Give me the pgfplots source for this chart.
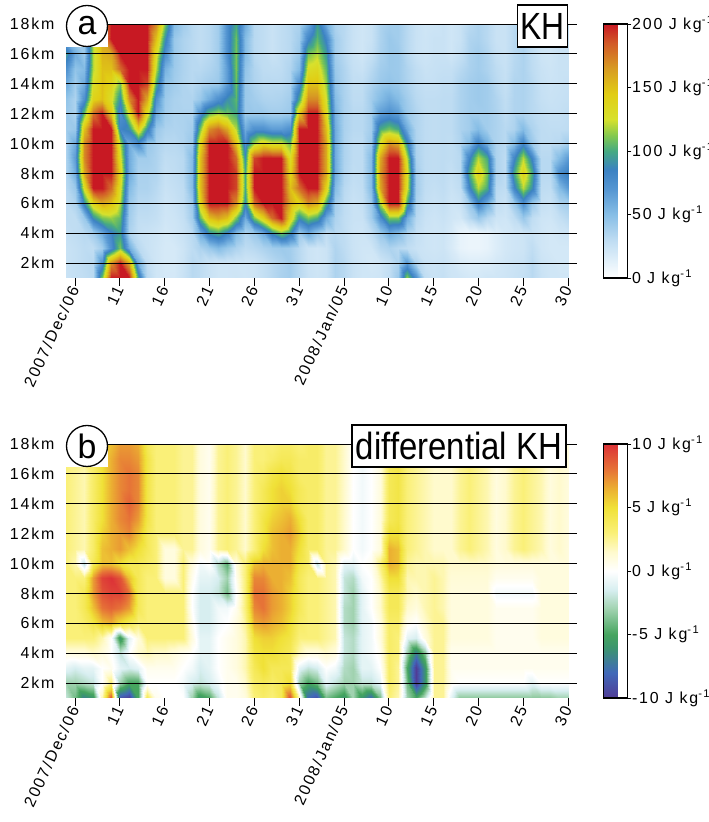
\documentclass[border=0pt]{standalone}
\usepackage{pgfplots}
\pgfplotsset{compat=1.18}
\usepackage{graphicx}
\usepackage{fontspec}
\setmainfont{Liberation Sans}
\newfontfamily\lsp{Liberation Sans}[LetterSpace=12]
\newcommand{\tf}{\lsp\fontsize{16}{18}\selectfont}
\pgfplotsset{
  colormap={kh}{rgb255(0)=(255,255,255) rgb255(15)=(222,238,249) rgb255(30)=(190,220,242) rgb255(50)=(135,190,230) rgb255(70)=(85,150,210) rgb255(85)=(60,130,195) rgb255(100)=(70,170,130) rgb255(112)=(130,200,80) rgb255(125)=(215,225,45) rgb255(145)=(225,205,20) rgb255(165)=(215,155,35) rgb255(185)=(210,90,40) rgb255(200)=(200,25,35)},
  colormap={dkh}{rgb255(0)=(80,60,150) rgb255(4)=(65,105,185) rgb255(8)=(60,150,110) rgb255(10)=(70,165,95) rgb255(14)=(160,210,175) rgb255(17)=(215,238,240) rgb255(20)=(255,255,255) rgb255(23)=(255,250,205) rgb255(26)=(250,240,120) rgb255(30)=(240,225,55) rgb255(33)=(235,175,50) rgb255(36)=(230,115,55) rgb255(40)=(220,50,55)},
  heat/.style={
    view={0}{90},
    scale only axis, width=511bp, height=254bp,
    xmin=-1, xmax=56, ymin=1, ymax=18,
    axis on top,
    axis line style={draw=none},
    tick pos=left, tick align=outside,
    major tick length=8bp,
    xtick={0,5,...,55},
    xticklabels={2007/Dec/06,11,16,21,26,31,2008/Jan/05,10,15,20,25,30},
    xticklabel style={font=\tf, rotate=65, anchor=east, inner sep=1bp},
    ytick={2,4,...,18},
    yticklabels={2km,4km,6km,8km,10km,12km,14km,16km,18km},
    yticklabel style={font=\tf},
    ytick style={draw=none},
    xtick style={black, line width=0.8bp},
    ztick=\empty,
    ymajorgrids,
    major grid style={black, line width=0.8bp},
    colorbar,
    colorbar style={
      at={(parent axis.north east)}, anchor=north west, xshift=18bp,
      scale only axis, width=24bp, height=254bp,
      axis line style={draw=black, line width=1.2bp},
      ytick pos=right, yticklabel pos=right, tick align=outside,
      major tick length=4bp,
      ytick style={black, line width=0.8bp},
      yticklabel style={font=\tf, xshift=-3bp},
    },
  },
}
\begin{document}
\begin{tikzpicture}
\useasboundingbox (0,0) rectangle (709bp,822bp);
% ---------------- panel a ----------------
\begin{axis}[heat, at={(66bp,544bp)}, anchor=south west,
  colormap name=kh, point meta min=0, point meta max=200,
  colorbar style={ytick={0,50,100,150,200},
    yticklabels={0 J kg\textsuperscript{-1},50 J kg\textsuperscript{-1},100 J kg\textsuperscript{-1},150 J kg\textsuperscript{-1},200 J kg\textsuperscript{-1}}}]
\addplot3[surf, shader=interp, mesh/cols=57, mesh/ordering=x varies] table[row sep=\\, header=false,
    x expr={\coordindex-57*floor((\coordindex+0.5)/57)-1},
    y expr={floor((\coordindex+0.5)/57)+1},
    z index=0]{
25\\27\\29\\32\\110\\220\\250\\220\\100\\32\\22\\20\\20\\25\\32\\30\\25\\22\\22\\23\\22\\23\\27\\32\\37\\40\\32\\25\\23\\25\\36\\32\\25\\22\\22\\23\\29\\43\\115\\74\\29\\25\\27\\23\\22\\20\\20\\22\\22\\23\\25\\27\\32\\25\\22\\22\\22\\
25\\27\\30\\32\\74\\170\\220\\160\\59\\29\\22\\19\\19\\24\\32\\30\\25\\22\\22\\22\\22\\23\\27\\32\\36\\40\\32\\24\\22\\24\\36\\32\\25\\22\\20\\22\\27\\36\\67\\36\\25\\24\\25\\22\\18\\16\\16\\17\\20\\22\\24\\25\\32\\24\\22\\20\\20\\
25\\27\\30\\29\\40\\74\\110\\59\\32\\25\\22\\19\\19\\23\\30\\36\\43\\51\\43\\36\\30\\32\\36\\40\\42\\40\\32\\24\\22\\24\\35\\30\\24\\22\\22\\32\\36\\32\\29\\25\\23\\22\\23\\18\\11\\9\\9\\11\\16\\20\\22\\23\\29\\22\\20\\20\\20\\
27\\29\\32\\40\\59\\82\\95\\36\\27\\25\\23\\20\\22\\25\\32\\59\\90\\100\\82\\51\\36\\43\\59\\90\\110\\90\\43\\59\\43\\29\\32\\29\\24\\23\\29\\43\\59\\51\\36\\27\\23\\22\\23\\19\\11\\9\\9\\11\\16\\20\\22\\23\\25\\22\\20\\22\\23\\
29\\29\\43\\90\\110\\115\\105\\40\\29\\29\\27\\22\\23\\27\\40\\105\\150\\160\\150\\110\\59\\110\\140\\180\\200\\140\\90\\110\\100\\59\\36\\29\\25\\25\\40\\74\\110\\110\\59\\32\\25\\23\\25\\22\\20\\32\\43\\32\\23\\22\\29\\43\\29\\23\\22\\27\\32\\
30\\36\\90\\140\\160\\150\\120\\43\\32\\32\\29\\23\\25\\29\\43\\140\\230\\250\\240\\170\\90\\180\\230\\250\\250\\160\\140\\170\\160\\100\\40\\30\\25\\27\\43\\120\\200\\200\\100\\36\\27\\25\\27\\23\\25\\43\\82\\59\\29\\25\\43\\74\\43\\27\\25\\36\\40\\
32\\43\\130\\200\\230\\180\\130\\51\\36\\36\\32\\25\\27\\30\\51\\150\\250\\250\\250\\190\\100\\230\\250\\250\\250\\150\\180\\240\\230\\140\\51\\32\\27\\29\\51\\160\\250\\250\\125\\40\\29\\27\\29\\25\\29\\82\\120\\100\\32\\29\\82\\120\\90\\30\\29\\51\\67\\
35\\59\\160\\250\\250\\220\\140\\59\\37\\37\\35\\27\\29\\32\\51\\150\\250\\250\\250\\190\\100\\230\\250\\250\\250\\140\\210\\250\\250\\160\\59\\35\\29\\30\\51\\165\\250\\250\\130\\40\\30\\29\\30\\27\\32\\100\\140\\110\\36\\30\\100\\140\\100\\32\\32\\74\\87\\
36\\67\\170\\250\\250\\230\\130\\59\\40\\40\\36\\29\\30\\32\\51\\150\\250\\250\\250\\180\\90\\190\\230\\230\\220\\130\\230\\250\\250\\160\\59\\36\\30\\30\\51\\160\\240\\240\\120\\37\\30\\29\\30\\29\\32\\82\\120\\100\\36\\30\\82\\120\\82\\32\\32\\51\\67\\
37\\59\\170\\250\\250\\230\\120\\59\\74\\43\\37\\32\\32\\35\\43\\140\\230\\240\\220\\150\\74\\120\\140\\130\\130\\110\\230\\250\\250\\160\\59\\36\\30\\30\\43\\130\\170\\160\\90\\36\\30\\29\\30\\29\\35\\51\\82\\59\\36\\32\\51\\82\\43\\30\\30\\32\\40\\
40\\43\\150\\230\\250\\200\\82\\90\\140\\90\\43\\36\\35\\36\\40\\110\\170\\180\\160\\120\\59\\74\\74\\67\\67\\74\\200\\250\\240\\150\\59\\37\\32\\32\\40\\100\\110\\100\\59\\35\\30\\29\\30\\30\\36\\40\\51\\40\\36\\32\\36\\51\\36\\30\\29\\29\\30\\
42\\36\\110\\180\\210\\150\\74\\130\\200\\130\\59\\40\\36\\36\\36\\74\\110\\120\\110\\100\\43\\43\\43\\40\\40\\43\\150\\220\\200\\135\\56\\37\\32\\32\\40\\67\\74\\67\\43\\35\\30\\29\\30\\30\\36\\40\\40\\40\\36\\30\\35\\36\\32\\29\\27\\27\\29\\
46\\36\\74\\140\\150\\130\\90\\170\\230\\160\\74\\42\\37\\35\\35\\43\\59\\74\\90\\105\\43\\40\\36\\35\\36\\40\\100\\170\\170\\125\\51\\37\\30\\30\\40\\51\\59\\51\\40\\32\\29\\29\\30\\30\\36\\40\\42\\40\\35\\29\\35\\36\\32\\27\\25\\26\\27\\
59\\40\\59\\130\\150\\140\\110\\210\\250\\190\\100\\46\\40\\35\\32\\36\\40\\43\\67\\108\\43\\36\\32\\32\\32\\36\\74\\150\\150\\115\\46\\36\\29\\29\\36\\43\\46\\43\\36\\30\\27\\27\\29\\29\\36\\40\\42\\40\\32\\27\\35\\36\\32\\26\\24\\25\\26\\
74\\46\\51\\120\\150\\150\\180\\240\\250\\220\\120\\56\\42\\36\\32\\32\\35\\40\\67\\110\\46\\35\\30\\29\\30\\35\\51\\130\\135\\105\\43\\35\\27\\25\\32\\40\\43\\42\\35\\29\\25\\26\\27\\27\\32\\37\\40\\36\\30\\26\\33\\36\\30\\25\\23\\25\\25\\
95\\59\\43\\120\\155\\160\\200\\250\\250\\250\\130\\74\\43\\36\\32\\29\\32\\40\\74\\110\\51\\32\\29\\25\\29\\32\\43\\110\\120\\95\\40\\32\\25\\22\\27\\37\\43\\42\\32\\25\\23\\25\\25\\22\\27\\36\\40\\35\\27\\25\\32\\36\\29\\23\\22\\25\\25\\
59\\40\\43\\120\\160\\200\\250\\250\\250\\240\\150\\90\\43\\36\\32\\29\\32\\40\\74\\108\\51\\32\\29\\25\\29\\32\\40\\82\\105\\82\\40\\32\\25\\22\\25\\36\\43\\40\\32\\25\\23\\25\\25\\22\\25\\35\\37\\32\\25\\25\\32\\36\\29\\23\\22\\25\\25\\
29\\32\\43\\110\\160\\220\\250\\250\\250\\250\\170\\110\\51\\40\\32\\29\\32\\40\\74\\100\\59\\32\\29\\25\\29\\32\\36\\59\\95\\59\\36\\32\\25\\22\\25\\36\\40\\40\\32\\25\\22\\23\\25\\22\\25\\32\\36\\32\\25\\25\\32\\36\\29\\23\\22\\25\\25\\
};
\end{axis}
% ---------------- panel b ----------------
\begin{axis}[heat, at={(66bp,124bp)}, anchor=south west,
  colormap name=dkh, point meta min=-10, point meta max=10,
  colorbar style={ytick={-10,-5,0,5,10},
    yticklabels={-10 J kg\textsuperscript{-1},-5 J kg\textsuperscript{-1},0 J kg\textsuperscript{-1},5 J kg\textsuperscript{-1},10 J kg\textsuperscript{-1}}}]
\addplot3[surf, shader=interp, mesh/cols=57, mesh/ordering=x varies] table[row sep=\\, header=false,
    x expr={\coordindex-57*floor((\coordindex+0.5)/57)-1},
    y expr={floor((\coordindex+0.5)/57)+1},
    z index=0]{
-2\\-4\\-7\\-6\\2\\9\\-9\\-10\\-5\\4\\0.5\\0\\0\\0\\-3\\-6\\-5\\-2\\0.5\\0.5\\1\\3\\3.5\\3\\4\\9\\2\\-8\\-9\\-4\\-5\\-6\\-3\\-6\\-8\\-4\\3\\2\\-3\\-5\\-2\\2.5\\2.5\\-1\\-3.5\\-3.5\\-3.5\\-3.5\\-3.5\\-3.5\\-3.5\\-3.5\\-3.5\\-3.5\\-3.5\\-3\\-3\\
-3\\-3\\-2.5\\-2\\0\\3\\-3\\-5\\-5\\0\\0\\0\\0\\-0.5\\-1.5\\-2\\-1.5\\-0.5\\0.5\\0.5\\1.5\\3.5\\4\\3.5\\4\\5\\-3\\-5\\-4\\-1\\-2\\-3\\-3\\-2\\-2\\-1\\3.5\\2.5\\-4\\-10\\-6\\2.5\\2.5\\0.5\\0\\0\\0\\0\\0\\0\\0\\0\\-1\\0\\0\\0\\0\\
-1\\-1.5\\-1\\-1\\0\\0.5\\-1\\-1.5\\-1\\0.5\\0.5\\0.5\\0.5\\0\\-0.5\\-1.5\\-1\\0\\0.5\\1\\2\\4\\5\\4\\4\\4\\-1\\-2\\-1.5\\0\\-0.5\\-2.5\\-3\\-1\\-1\\0\\3.5\\2.5\\-5\\-10\\-6\\2.5\\2.5\\0.5\\0.5\\0.5\\0.5\\0.5\\0.5\\0.5\\0.5\\0.5\\0.5\\0.5\\0.5\\0.5\\0.5\\
1\\1\\1\\1.5\\1\\0\\-2\\0\\1.5\\2\\1.5\\1.5\\1\\0.5\\0\\-1\\-1\\0\\0.5\\1\\2\\4.5\\5\\5\\4.5\\4\\2\\1\\1\\1.5\\1\\-2\\-2.5\\-1\\-0.5\\0.5\\3.5\\3\\-3\\-7\\-3.5\\2.5\\2.5\\0.5\\0.5\\0.5\\0.5\\0.5\\0.5\\0.5\\0.5\\0.5\\0.5\\0.5\\0.5\\0.5\\0.5\\
3\\3\\3\\3\\2\\0\\-6\\-1\\1\\3\\3\\3\\3\\3\\1\\-1\\-1\\0\\0.5\\1\\2\\5\\5.5\\5.5\\5\\4.5\\3\\3\\3\\2.5\\2\\-2\\-2.5\\-1\\-0.5\\1\\3.5\\3\\-1\\-1.5\\1\\2.5\\2.5\\1\\1\\1\\1\\1\\0.5\\0.5\\0.5\\0.5\\0.5\\1\\1\\1\\1\\
3\\3\\3.5\\4.5\\6\\6.5\\5\\4\\3\\3\\3\\3\\3\\3\\0.5\\-1.5\\-1.5\\-0.5\\0\\1\\2.5\\6.5\\7\\6.5\\6\\5\\3.5\\3\\3\\2.5\\2\\-2.5\\-3\\-1\\-0.5\\1\\3.5\\3.5\\0.5\\0\\1.5\\2.5\\2.5\\1\\1\\1\\1\\1\\0.5\\0.5\\0.5\\0.5\\0.5\\1\\1\\1\\1\\
3\\3\\4\\6\\8\\8.5\\8\\7\\4\\3\\3\\3\\3\\3\\0\\-1.5\\-1.5\\-0.5\\-0.5\\0.5\\3\\7.5\\8\\7\\6.5\\5.5\\4\\3\\3\\2.5\\2\\-2.5\\-3\\-1\\0\\1.5\\4\\4\\1.5\\1\\2\\2.5\\2\\1\\1\\1\\1\\1\\0.5\\0.5\\0.5\\0.5\\0.5\\1\\1\\1\\1\\
3\\3\\4\\7\\9\\9.5\\9.5\\8\\4\\3\\3\\3\\3\\3\\0\\-1.5\\-1.5\\-2\\-4\\0\\3\\8\\8\\7\\6.5\\5.5\\4\\3\\3\\2.5\\2\\-2\\-3\\-1\\0\\1.5\\4\\4\\2\\1.5\\2\\2.5\\2\\1\\1\\1\\1\\1\\-0.5\\-0.5\\-0.5\\-0.5\\-0.5\\1\\1\\1\\1\\
3\\3\\3\\7\\9.5\\10\\9\\6\\4\\3\\3\\1\\1\\3\\0.5\\-1\\-1\\-1.5\\-3\\0.5\\3\\7.5\\7.5\\6.5\\6.5\\6\\4\\3\\3\\2.5\\2\\-2\\-2.5\\-0.5\\0\\2\\5\\5\\2\\2\\2\\2.5\\2\\1.2\\1.2\\1.2\\1.2\\1.2\\0.5\\0.5\\0.5\\0.5\\0.5\\1\\1\\1\\1\\
3\\2\\-2\\4\\6\\6\\5\\4\\4\\3.5\\3\\1\\1\\3\\1\\-0.5\\0\\-2.5\\-4.5\\1\\3\\6\\6.5\\6.5\\6.5\\6.5\\4.5\\3.5\\-2\\2.5\\2\\-1\\-1\\0\\0.5\\3\\6.5\\6\\2.5\\2\\2\\2\\2\\1.5\\1.5\\1.5\\1.5\\1.5\\1\\1\\1\\1\\1\\1\\1\\1\\1\\
3\\2.5\\2\\3.5\\6\\6.5\\7\\6\\5\\4\\3\\1\\1\\2.5\\2.5\\1\\0.5\\2.5\\3\\2.5\\1.5\\3\\5\\6\\6.5\\6.5\\5\\3.5\\3.5\\2.5\\2.5\\1.5\\0\\-0.5\\0\\1\\6.5\\6\\3\\2.5\\2\\1.5\\1.5\\1.5\\2.5\\3\\2.5\\2\\1\\1.5\\2.5\\3\\2.5\\2\\1\\1.5\\1\\
3\\2.5\\2\\3.5\\5.5\\6.5\\7\\7.5\\6\\4\\3\\3\\3\\2.5\\2.5\\1\\0.5\\2.5\\3\\2.5\\1.5\\3\\4.5\\6\\6.5\\7\\5.5\\3.5\\3.5\\2.5\\2.5\\1.5\\0\\-0.5\\0\\1\\5\\5\\3\\2.5\\2\\1.5\\1.5\\1.5\\2.5\\3\\2.5\\2\\1\\1.5\\2.5\\3\\2.5\\2\\1\\1.5\\1\\
3\\2.5\\2\\3.5\\5\\6.5\\7.5\\8\\7\\4.5\\3\\3\\3\\2.5\\2.5\\1\\0.5\\2.5\\3\\2.5\\1.5\\3\\4.5\\5.5\\6\\6.5\\5\\3.5\\3.5\\2.5\\2.5\\1.5\\0\\-0.5\\0\\1\\4\\4.5\\3\\2.5\\2\\1.5\\1.5\\1.5\\2.5\\3\\2.5\\2\\1\\1.5\\2.5\\3\\2.5\\2\\1\\1.5\\1\\
3\\2.5\\2\\3.5\\5\\6.5\\7.5\\8.5\\7.5\\4.5\\3\\3\\3\\2.5\\2.5\\1\\0.5\\2.5\\3\\2.5\\1.5\\3\\4\\5\\5.5\\5.5\\4\\3.5\\3.5\\2.5\\2.5\\1.5\\0\\-0.5\\0\\1\\4\\4.5\\3\\2.5\\2\\1.5\\1.5\\1.5\\2.5\\3\\2.5\\2\\1\\1.5\\2.5\\3\\2.5\\2\\1\\1.5\\1\\
3\\2.5\\2\\3.5\\5\\6.5\\7.5\\8\\7.5\\4.5\\3\\3\\3\\2.5\\2.5\\1\\0.5\\2.5\\3\\2.5\\1.5\\3\\4\\5\\5.5\\5\\4\\3.5\\3.5\\2.5\\2.5\\1.5\\0\\-0.5\\0\\1\\4\\4.5\\3\\2.5\\2\\1.5\\1.5\\1.5\\2.5\\3\\2.5\\2\\1\\1.5\\2.5\\3\\2.5\\2\\1\\1.5\\1\\
3\\2.5\\2\\3.5\\5\\6.5\\7.5\\8\\7.5\\4.5\\3\\3\\3\\2.5\\2.5\\1\\0.5\\2.5\\3\\2.5\\1.5\\3\\3.5\\4.5\\5\\4.5\\3.5\\3.5\\3.5\\2.5\\2.5\\1.5\\0\\-0.5\\0\\1\\4\\4.5\\3\\2.5\\2\\1.5\\1.5\\1.5\\2.5\\3\\2.5\\2\\1\\1.5\\2.5\\3\\2.5\\2\\1\\1.5\\1\\
3\\3\\2.5\\3.5\\5\\6.5\\7.5\\7.5\\7\\4.5\\3\\3\\3\\2.5\\2.5\\1\\0.5\\2.5\\3\\2.5\\1.5\\3\\3\\3.5\\4\\4\\3.5\\3.5\\3.5\\2.5\\2.5\\1.5\\0\\-0.5\\0\\1\\4\\4.5\\3\\2.5\\2\\1.5\\1.5\\1.5\\2.5\\3\\2.5\\2\\1\\1.5\\2.5\\3\\2.5\\2\\1\\1.5\\1\\
3\\3\\3\\3.5\\5\\6\\7\\7\\6.5\\4\\3\\3\\3\\2.5\\2.5\\1\\0.5\\2.5\\3\\2.5\\1.5\\3\\3\\3\\3.5\\3.5\\3\\3.5\\3.5\\2.5\\2.5\\1.5\\0\\-0.5\\0\\1\\4\\4.5\\3\\2.5\\2\\1.5\\1.5\\1.5\\2.5\\3\\2.5\\2\\1\\1.5\\2.5\\3\\2.5\\2\\1\\1.5\\1\\
};
\end{axis}
% ---------------- panel labels ----------------
\fill[white] (66bp,775bp) rectangle (108bp,799bp);
\node[circle, draw, line width=1.3bp, fill=white, minimum size=41bp, inner sep=0pt] at (87bp,796bp) {\fontsize{34}{36}\selectfont a};
\node[draw, line width=1.3bp, fill=white, minimum height=42bp, inner xsep=3bp, inner ysep=0pt] at (542.5bp,796bp) {\scalebox{0.84}[1]{\fontsize{38}{40}\selectfont KH}};
\fill[white] (66bp,355bp) rectangle (108bp,379bp);
\node[circle, draw, line width=1.3bp, fill=white, minimum size=41bp, inner sep=0pt] at (87bp,376bp) {\fontsize{34}{36}\selectfont b};
\node[draw, line width=1.3bp, fill=white, minimum height=42bp, inner xsep=4bp, inner ysep=0pt] at (459bp,376bp) {\scalebox{0.87}[1]{\fontsize{38}{40}\selectfont differential KH}};
\end{tikzpicture}
\end{document}
